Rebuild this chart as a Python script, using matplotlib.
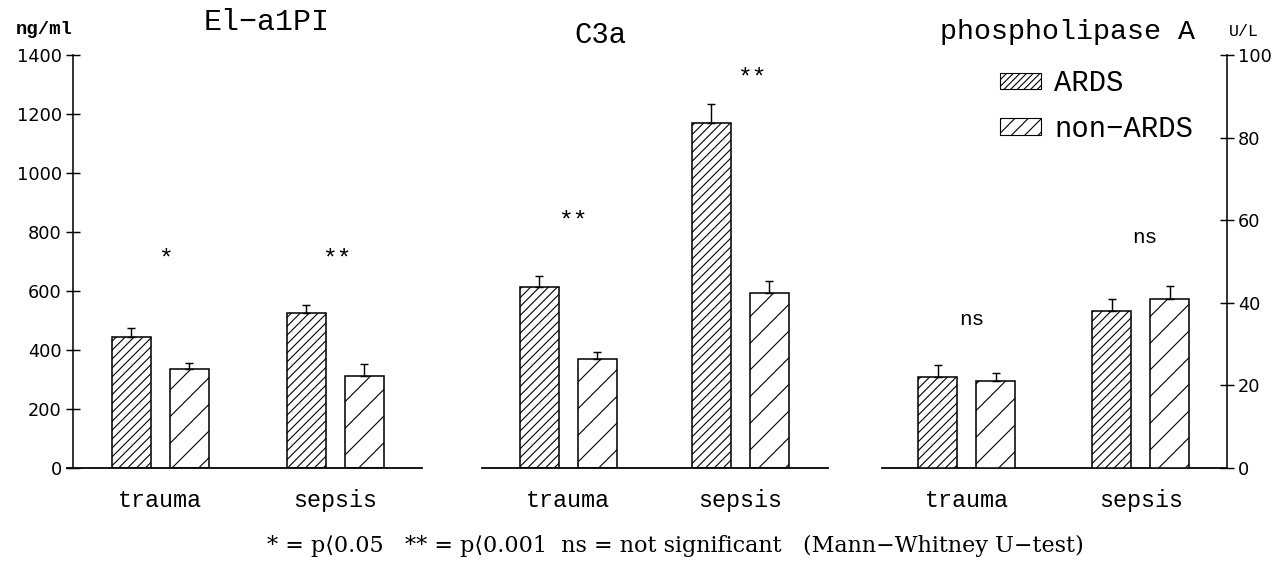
import numpy as np
import matplotlib
matplotlib.use("Agg")
import matplotlib.pyplot as plt
from matplotlib.patches import Patch

plt.rcParams['hatch.linewidth'] = 1.0

# data (mean, SEM)
groups = ["trauma", "sepsis"]
el_ards = [444, 525]
el_ards_err = [31, 28]
el_non = [336, 312]
el_non_err = [20, 41]
c3a_ards = [614, 1169]
c3a_ards_err = [37, 65]
c3a_non = [369, 593]
c3a_non_err = [24, 41]
pla_ards = [22.0, 38.0]
pla_ards_err = [2.9, 2.9]
pla_non = [21.1, 40.9]
pla_non_err = [1.9, 3.2]
sig_el = ["*", "**"]
sig_c3a = ["**", "**"]
sig_pla = ["ns", "ns"]

W, H, DPI = 1288, 562, 80
fig = plt.figure(figsize=(W / DPI, H / DPI), dpi=DPI)
L, R, B, T = 73, 1227, 468, 55
ax = fig.add_axes([L / W, (H - B) / H, (R - L) / W, (B - T) / H])
ax2 = ax.twinx()

ax.set_xlim(0, R - L)
ax.set_ylim(0, 1400)
ax2.set_ylim(0, 100)

mono = "Liberation Mono"
bw = 39
off = 29
centers = [87, 262, 495, 667, 894, 1068]
baselines = [(-6, 349), (409, 755), (809, R - L)]


def pair(axis, cx, ards, ards_err, non, non_err):
    cx = np.array(cx, dtype=float)
    axis.bar(cx - off, ards, bw, facecolor="white", edgecolor="black",
             linewidth=1.4, hatch="///", zorder=2)
    axis.bar(cx + off, non, bw, facecolor="white", edgecolor="black",
             linewidth=1.4, hatch="/", zorder=2)
    axis.errorbar(cx - off, ards, yerr=[np.zeros(len(ards)), ards_err], fmt="none",
                  ecolor="black", elinewidth=1.3, capsize=4, capthick=1.3, zorder=3)
    axis.errorbar(cx + off, non, yerr=[np.zeros(len(non)), non_err], fmt="none",
                  ecolor="black", elinewidth=1.3, capsize=4, capthick=1.3, zorder=3)


pair(ax, centers[0:2], el_ards, el_ards_err, el_non, el_non_err)
pair(ax, centers[2:4], c3a_ards, c3a_ards_err, c3a_non, c3a_non_err)
pair(ax2, centers[4:6], pla_ards, pla_ards_err, pla_non, pla_non_err)

for x0, x1 in baselines:
    ax.plot([x0, x1], [0, 0], color="black", lw=1.6, clip_on=False, zorder=4)

# significance marks
sig_x = [92, 264, 500, 679, 899, 1072]
sig_y = [735, 735, 861, 1346, 502, 780]
for x, y, s in zip(sig_x, sig_y, sig_el + sig_c3a + sig_pla):
    if s == "ns":
        ax.text(x, y, s, ha="center", va="center", fontsize=19, family=mono)
    else:
        ax.text(x, y - 25, s, ha="center", va="center", fontsize=22, family=mono)

# axes styling
for sp in ["top", "bottom", "right"]:
    ax.spines[sp].set_visible(False)
for sp in ["top", "bottom", "left"]:
    ax2.spines[sp].set_visible(False)
ax.spines["left"].set_linewidth(1.4)
ax2.spines["right"].set_linewidth(1.4)

ax.set_yticks(range(0, 1401, 200))
ax2.set_yticks(range(0, 101, 20))
for a in (ax, ax2):
    a.tick_params(axis="y", direction="inout", length=12, width=1.3, labelsize=16, pad=4)
    for lab in a.get_yticklabels():
        lab.set_family("DejaVu Sans")

ax.set_xticks(centers)
ax.set_xticklabels(groups * 3, family=mono, fontsize=21)
ax.tick_params(axis="x", length=0, pad=19)
ax2.tick_params(axis="x", length=0)

# titles and units
fig.text(267 / W, 1 - 22 / H, "El\u2212a1PI", ha="center", va="center", fontsize=27, family=mono)
fig.text(600 / W, 1 - 35 / H, "C3a", ha="center", va="center", fontsize=26, family=mono)
fig.text(1067 / W, 1 - 32 / H, "phospholipase A", ha="center", va="center", fontsize=25.5, family=mono)
fig.text(44 / W, 1 - 30 / H, "ng/ml", ha="center", va="center", fontsize=17,
         family=mono, weight="bold")
fig.text(1244 / W, 1 - 31 / H, "U/L", ha="center", va="center", fontsize=15,
         family=mono)

# legend
handles = [Patch(facecolor="white", edgecolor="black", hatch="////", label="ARDS"),
           Patch(facecolor="white", edgecolor="black", hatch="//", label="non\u2212ARDS")]
fig.legend(handles=handles, loc="upper left", bbox_to_anchor=(1000 / W, 1 - 69 / H),
           frameon=False, prop={"family": mono, "size": 26}, handlelength=1.42,
           handleheight=0.5, handletextpad=0.45, labelspacing=0.62,
           borderpad=0, borderaxespad=0)

fig.text(675 / W, 1 - 546 / H,
         "* = p\u27e80.05   ** = p\u27e80.001  ns = not significant   (Mann\u2212Whitney U\u2212test)",
         ha="center", va="center", fontsize=20, family=["DejaVu Serif", "DejaVu Sans"])

fig.savefig("out.png", dpi=DPI)
